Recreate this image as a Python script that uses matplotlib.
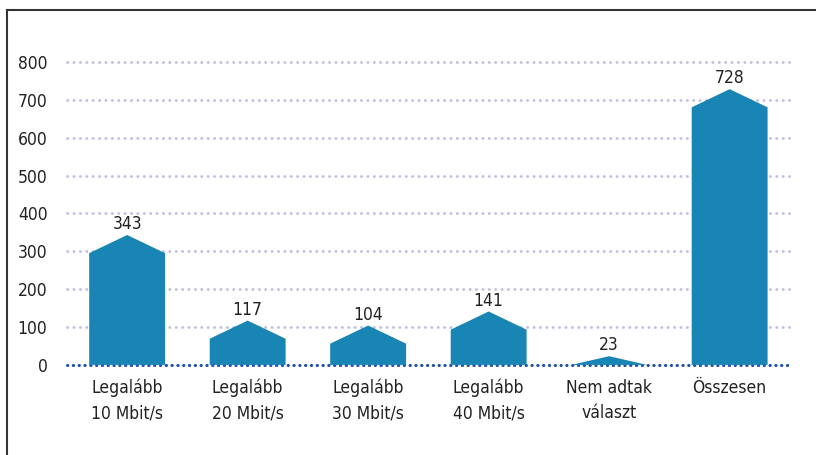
import matplotlib
matplotlib.use("Agg")
import matplotlib.pyplot as plt

categories = ["Legalább\n10 Mbit/s", "Legalább\n20 Mbit/s", "Legalább\n30 Mbit/s",
              "Legalább\n40 Mbit/s", "Nem adtak\nválaszt", "Összesen"]
values = [343, 117, 104, 141, 23, 728]
yticks = [0, 100, 200, 300, 400, 500, 600, 700, 800]

BAR = "#1985b5"
ROOF = 48          # height of the pointed top, in data units
WIDTH = 0.63

plt.rcParams["font.family"] = ["DejaVu Sans"]
plt.rcParams["font.stretch"] = "condensed"

fig = plt.figure(figsize=(8.16, 4.55), dpi=100)
ax = fig.add_axes([0.082, 0.198, 0.886, 0.666])

for i, v in enumerate(values):
    shoulder = max(v - ROOF, 0)
    xs = [i - WIDTH / 2, i - WIDTH / 2, i, i + WIDTH / 2, i + WIDTH / 2]
    ys = [0, shoulder, v, shoulder, 0]
    ax.fill(xs, ys, color=BAR, lw=0, zorder=3)
    ax.text(i, v + 5, str(v), ha="center", va="bottom", fontsize=12.5, color="#222222")

# dotted grid; clip_on=False so the lines on the axes edges are not cut in half
for t in yticks[1:]:
    ax.axhline(t, color="#bdbde6", lw=2.0, ls=(0, (0.1, 2.2)), dash_capstyle="round",
               zorder=1, clip_on=False)
ax.axhline(0, color="#1e4fa5", lw=2.2, ls=(0, (0.1, 1.8)), dash_capstyle="round",
           zorder=2, clip_on=False)

ax.set_xlim(-0.5, len(values) - 0.5)
ax.set_ylim(0, 800)
ax.set_yticks(yticks)
ax.set_xticks(range(len(categories)))
ax.set_xticklabels(categories, fontsize=12.5, color="#222222", linespacing=1.55)
ax.tick_params(axis="y", length=0, pad=14, labelsize=12.5, labelcolor="#222222")
ax.tick_params(axis="x", length=0, pad=10)
for s in ax.spines.values():
    s.set_visible(False)

# frame lines along top and left edge of the figure
fig.add_artist(plt.Line2D([7 / 816, 1], [1 - 10 / 455, 1 - 10 / 455],
                          transform=fig.transFigure, color="#333333", lw=1.5))
fig.add_artist(plt.Line2D([7 / 816, 7 / 816], [0, 1 - 10 / 455],
                          transform=fig.transFigure, color="#333333", lw=1.5))

fig.savefig("out.png", dpi=100)
